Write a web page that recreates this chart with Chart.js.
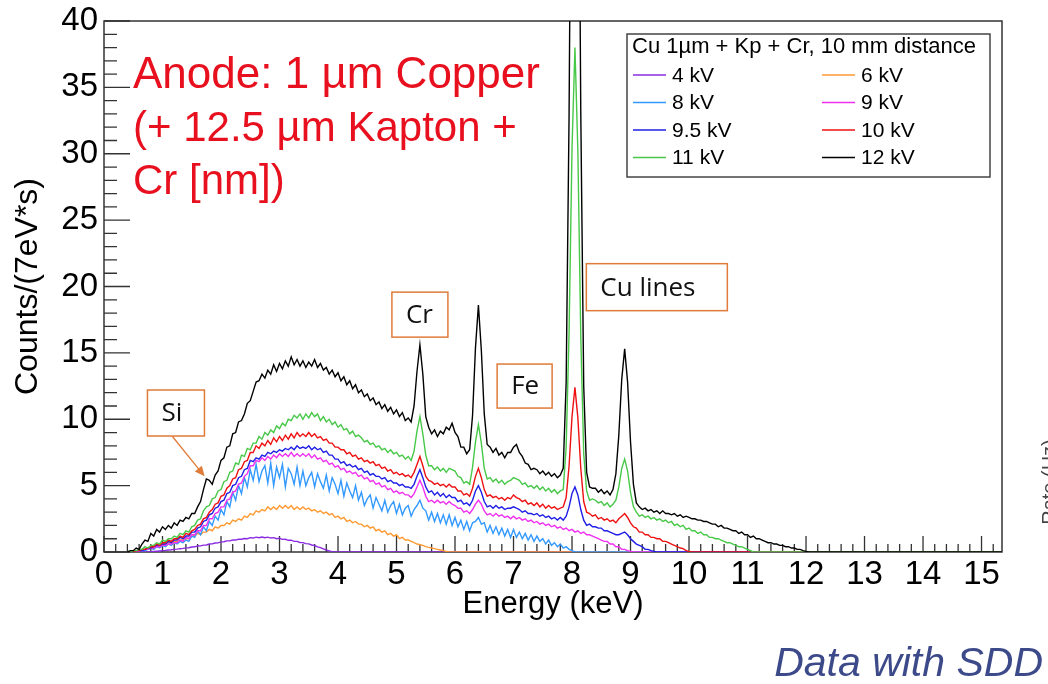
<!DOCTYPE html>
<html>
<head>
<meta charset="utf-8">
<title>SDD spectra, Cu anode</title>
<script src="https://cdn.jsdelivr.net/npm/chart.js@4.4.1/dist/chart.umd.min.js"></script>
<style>
  html, body { margin: 0; padding: 0; background: #fff; }
  #wrap { width: 1048px; height: 684px; }
</style>
</head>
<body>
<div id="wrap"><canvas id="spectrum" width="1048" height="684"></canvas></div>
<script>
// Energy bins: first kept bin centre and bin width, in keV
const binStart = 0.4;
const binWidth = 0.05;
const energyMax = 15.35;

const energyTicks = [0, 1, 2, 3, 4, 5, 6, 7, 8, 9, 10, 11, 12, 13, 14, 15];
const countTicks = [0, 5, 10, 15, 20, 25, 30, 35, 40];

const seriesLabels = ['4 kV', '6 kV', '8 kV', '9 kV', '9.5 kV', '10 kV', '11 kV', '12 kV'];
const seriesColors = ['#8a2be2', '#ff9a33', '#3399ff', '#f030f0', '#1f1fe6', '#ee1111', '#48c848', '#000000'];

// Counts/(7eV*s), one row per keV starting at 0.40, 1.40, 2.40 ...
const kv4 = [
  0, 0, 0, 0, 0, 0, 0, 0, 0.02, 0.04, 0.06, 0.08, 0.1, 0.12, 0.15, 0.17, 0.2, 0.22, 0.25, 0.27,
  0.31, 0.32, 0.38, 0.39, 0.45, 0.46, 0.52, 0.53, 0.6, 0.61, 0.68, 0.69, 0.76, 0.77, 0.84, 0.84, 0.9, 0.9, 0.96, 0.96,
  1.02, 1.0, 1.08, 1.05, 1.12, 1.08, 1.13, 1.08, 1.12, 1.05, 1.08, 1.0, 1.03, 0.95, 0.96, 0.88, 0.89, 0.8, 0.8, 0.72,
  0.71, 0.63, 0.61, 0.53, 0.49, 0.39, 0.33, 0.23, 0.15, 0.08, 0.03, 0.01, 0
];
const kv6 = [
  0, 0, 0.1, 0, 0.1, 0.2, 0.2, 0.3, 0.4, 0.4, 0.5, 0.5, 0.6, 0.6, 0.7, 0.7, 0.8, 0.8, 0.9, 0.9,
  1.0, 1.0, 1.2, 1.2, 1.4, 1.3, 1.5, 1.5, 1.7, 1.6, 1.9, 1.8, 2.0, 2.0, 2.2, 2.1, 2.4, 2.3, 2.5, 2.4,
  2.7, 2.6, 2.9, 2.8, 3.1, 3.0, 3.2, 3.1, 3.4, 3.2, 3.4, 3.2, 3.5, 3.3, 3.5, 3.3, 3.5, 3.2, 3.4, 3.2,
  3.4, 3.2, 3.3, 3.1, 3.2, 3.0, 3.1, 2.9, 3.0, 2.8, 2.9, 2.6, 2.7, 2.5, 2.6, 2.3, 2.4, 2.2, 2.3, 2.1,
  2.1, 1.9, 2.0, 1.8, 1.9, 1.6, 1.7, 1.5, 1.6, 1.3, 1.4, 1.2, 1.3, 1.0, 1.1, 0.9, 0.9, 0.8, 0.7, 0.6,
  0.55, 0.5, 0.4, 0.35, 0.3, 0.25, 0.2, 0.15, 0.1, 0.05, 0
];
const kv8 = [
  0, 0, 0, 0, 0.1, 0.1, 0.1, 0.2, 0.3, 0.2, 0.4, 0.3, 0.5, 0.4, 0.6, 0.5, 0.7, 0.6, 0.8, 0.7,
  0.9, 0.8, 1.2, 1.1, 1.6, 1.3, 1.9, 1.6, 2.3, 2.0, 2.7, 2.4, 3.2, 2.8, 3.8, 3.4, 4.5, 3.9, 5.0, 4.4,
  5.6, 4.9, 6.2, 5.4, 6.6, 5.3, 6.1, 6.5, 5.2, 6.7, 5.0, 6.4, 5.6, 6.6, 4.9, 6.3, 5.9, 5.1, 6.4, 5.0,
  6.1, 5.0, 5.6, 6.0, 4.9, 5.9, 5.3, 4.8, 5.8, 4.6, 5.6, 5.1, 4.4, 5.4, 4.2, 5.2, 4.6, 4.1, 5.0, 3.9,
  4.5, 3.5, 4.0, 4.3, 3.3, 4.1, 3.6, 3.1, 3.9, 3.0, 3.5, 3.8, 2.9, 3.6, 2.8, 3.3, 3.5, 2.7, 3.2, 3.5,
  3.9, 3.3, 3.1, 2.4, 3.0, 2.3, 2.9, 2.2, 2.8, 2.1, 2.8, 2.0, 2.6, 1.9, 2.4, 1.7, 2.3, 1.6, 2.2, 2.3,
  2.6, 2.1, 2.2, 1.5, 2.0, 1.4, 1.9, 1.3, 1.8, 1.2, 1.7, 1.1, 1.7, 1.1, 1.5, 1.0, 1.4, 0.9, 1.3, 0.8,
  1.2, 0.8, 1.0, 0.6, 0.9, 0.5, 0.7, 0.4, 0.6, 0.3, 0.4, 0.2, 0.1, 0
];
const kv9 = [
  0, 0, 0, 0, 0.1, 0.1, 0.2, 0.2, 0.3, 0.3, 0.4, 0.4, 0.5, 0.5, 0.6, 0.6, 0.7, 0.7, 0.9, 0.8,
  1.1, 1.0, 1.3, 1.3, 1.6, 1.6, 2.0, 2.0, 2.5, 2.5, 2.9, 3.0, 3.4, 3.4, 3.9, 4.0, 4.5, 4.6, 5.1, 5.2,
  5.7, 5.9, 6.5, 6.5, 6.9, 6.8, 7.1, 6.9, 7.2, 7.0, 7.3, 7.1, 7.4, 7.2, 7.4, 7.2, 7.5, 7.2, 7.4, 7.2,
  7.4, 7.2, 7.4, 7.1, 7.3, 7.0, 7.1, 6.8, 6.9, 6.6, 6.7, 6.4, 6.5, 6.2, 6.3, 6.0, 6.1, 5.9, 6.0, 5.7,
  5.8, 5.5, 5.6, 5.3, 5.4, 5.1, 5.2, 4.9, 5.0, 4.7, 4.8, 4.5, 4.6, 4.4, 4.5, 4.3, 4.3, 4.1, 4.4, 4.9,
  5.4, 4.9, 4.2, 3.8, 3.9, 3.7, 3.9, 3.7, 3.8, 3.6, 3.8, 3.6, 3.5, 3.3, 3.3, 3.0, 3.1, 2.9, 3.2, 3.6,
  3.9, 3.6, 3.1, 2.8, 2.9, 2.7, 2.9, 2.7, 2.8, 2.6, 2.7, 2.5, 2.7, 2.5, 2.6, 2.4, 2.5, 2.3, 2.4, 2.2,
  2.3, 2.1, 2.2, 2.0, 2.1, 1.9, 2.0, 1.8, 1.9, 1.7, 1.8, 1.6, 1.7, 1.5, 1.6, 1.4, 1.5, 1.3, 1.3, 1.2,
  1.1, 1.0, 0.9, 0.8, 0.8, 0.6, 0.6, 0.4, 0.4, 0.2, 0.2, 0.1, 0.05, 0
];
const kv95 = [
  0, 0, 0, 0.1, 0.1, 0.1, 0.2, 0.3, 0.3, 0.4, 0.5, 0.5, 0.6, 0.6, 0.8, 0.7, 0.9, 0.9, 1.1, 1.0,
  1.2, 1.2, 1.5, 1.5, 1.8, 1.9, 2.3, 2.4, 2.8, 2.9, 3.3, 3.4, 3.8, 3.9, 4.4, 4.5, 5.0, 5.1, 5.6, 5.7,
  6.2, 6.3, 6.9, 6.8, 7.1, 7.0, 7.3, 7.2, 7.5, 7.4, 7.6, 7.5, 7.7, 7.6, 7.8, 7.7, 7.9, 7.7, 8.0, 7.8,
  7.9, 7.8, 8.0, 7.7, 7.9, 7.7, 7.8, 7.5, 7.6, 7.3, 7.3, 7.0, 7.0, 6.7, 6.8, 6.5, 6.6, 6.4, 6.5, 6.2,
  6.3, 6.0, 6.1, 5.8, 5.9, 5.7, 5.7, 5.5, 5.6, 5.3, 5.4, 5.2, 5.2, 5.0, 5.1, 4.9, 4.9, 4.8, 5.1, 5.7,
  6.2, 5.6, 4.9, 4.5, 4.6, 4.3, 4.5, 4.2, 4.4, 4.1, 4.3, 4.1, 4.1, 3.8, 3.9, 3.6, 3.7, 3.5, 3.9, 4.6,
  5.0, 4.5, 3.8, 3.4, 3.5, 3.3, 3.5, 3.3, 3.4, 3.2, 3.3, 3.3, 3.4, 3.3, 3.2, 3.0, 3.1, 2.9, 2.9, 2.8,
  2.9, 2.7, 2.8, 2.6, 2.7, 2.5, 2.6, 2.4, 2.6, 2.4, 2.7, 3.4, 4.4, 4.9, 4.3, 3.2, 2.4, 2.0, 2.1, 1.9,
  1.9, 1.8, 1.8, 1.6, 1.6, 1.5, 1.4, 1.3, 1.3, 1.4, 1.5, 1.3, 1.0, 0.8, 0.6, 0.5, 0.4, 0.2, 0.2, 0.1,
  0.05, 0
];
const kv10 = [
  0, 0, 0, 0.1, 0.1, 0.2, 0.2, 0.3, 0.4, 0.4, 0.6, 0.5, 0.7, 0.7, 0.9, 0.8, 1.0, 1.0, 1.2, 1.1,
  1.4, 1.3, 1.6, 1.7, 2.0, 2.1, 2.5, 2.6, 3.0, 3.2, 3.6, 3.7, 4.2, 4.3, 4.8, 5.0, 5.5, 5.6, 6.2, 6.3,
  6.8, 6.9, 7.5, 7.5, 8.0, 7.8, 8.2, 8.0, 8.4, 8.1, 8.6, 8.3, 8.7, 8.4, 8.8, 8.5, 8.9, 8.6, 9.0, 8.7,
  8.9, 8.7, 9.0, 8.7, 8.9, 8.6, 8.7, 8.4, 8.5, 8.2, 8.2, 7.9, 7.9, 7.7, 7.7, 7.4, 7.5, 7.2, 7.3, 7.0,
  7.1, 6.8, 6.9, 6.7, 6.8, 6.5, 6.6, 6.3, 6.4, 6.1, 6.2, 5.9, 6.0, 5.8, 5.9, 5.7, 5.8, 5.6, 6.0, 6.6,
  7.2, 6.5, 5.7, 5.4, 5.3, 5.1, 5.2, 5.0, 5.1, 4.9, 5.1, 4.9, 4.9, 4.6, 4.6, 4.3, 4.4, 4.2, 4.8, 5.7,
  6.3, 5.6, 4.7, 4.2, 4.3, 4.1, 4.2, 4.0, 4.1, 3.9, 4.1, 4.0, 4.3, 4.1, 4.0, 3.8, 3.9, 3.6, 3.7, 3.5,
  3.7, 3.4, 3.6, 3.3, 3.5, 3.3, 3.4, 3.2, 3.3, 3.4, 4.1, 6.5, 10.2, 12.4, 10.1, 6.3, 3.8, 3.0, 2.9, 2.7,
  2.8, 2.5, 2.6, 2.4, 2.5, 2.3, 2.4, 2.2, 2.5, 2.7, 2.9, 2.6, 2.2, 1.9, 1.8, 1.5, 1.5, 1.3, 1.3, 1.1,
  1.1, 1.0, 1.0, 0.8, 0.8, 0.7, 0.6, 0.5, 0.4, 0.3, 0.25, 0.1, 0.05, 0
];
const kv11 = [
  0, 0, 0.1, 0.1, 0.2, 0.2, 0.4, 0.3, 0.5, 0.5, 0.7, 0.6, 0.9, 0.8, 1.0, 1.0, 1.2, 1.1, 1.4, 1.3,
  1.6, 1.5, 1.9, 2.0, 2.4, 2.5, 3.1, 3.4, 3.5, 4.0, 4.1, 4.6, 4.7, 5.3, 5.4, 6.0, 6.1, 6.7, 6.6, 7.3,
  7.2, 7.8, 7.7, 8.2, 8.2, 8.7, 8.5, 9.0, 8.8, 9.2, 9.0, 9.5, 9.3, 9.7, 9.5, 10.0, 9.9, 10.3, 10.1, 10.4,
  10.0, 10.4, 10.1, 10.5, 10.2, 10.4, 9.9, 10.2, 9.8, 10.0, 9.6, 9.8, 9.4, 9.6, 9.2, 9.3, 8.9, 9.1, 8.7, 8.8,
  8.6, 8.3, 8.4, 8.1, 8.2, 7.9, 8.0, 7.7, 7.8, 7.5, 7.7, 7.4, 7.5, 7.2, 7.3, 7.0, 7.2, 6.9, 7.6, 9.1,
  10.2, 8.9, 7.3, 6.5, 6.5, 6.2, 6.4, 6.1, 6.3, 6.0, 6.3, 6.2, 6.1, 5.7, 5.6, 5.2, 5.3, 5.1, 6.4, 8.3,
  9.6, 8.2, 6.3, 5.5, 5.6, 5.3, 5.5, 5.2, 5.4, 5.1, 5.3, 5.4, 5.6, 5.5, 5.4, 5.1, 5.2, 4.9, 5.0, 4.8,
  5.0, 4.7, 4.9, 4.6, 4.8, 4.5, 4.7, 4.4, 4.6, 4.7, 7.9, 16.6, 30.4, 38.0, 30.2, 16.2, 7.4, 4.6, 3.9, 4.0,
  3.9, 3.7, 3.8, 3.5, 3.7, 3.4, 3.6, 3.9, 4.9, 6.3, 7.0, 6.1, 4.5, 3.4, 3.0, 2.7, 2.8, 2.6, 2.7, 2.5,
  2.6, 2.4, 2.5, 2.3, 2.4, 2.2, 2.3, 2.0, 2.1, 1.9, 2.0, 1.7, 1.8, 1.6, 1.6, 1.4, 1.5, 1.3, 1.3, 1.1,
  1.1, 1.0, 1.0, 0.9, 0.8, 0.7, 0.7, 0.6, 0.5, 0.4, 0.4, 0.3, 0.2, 0.1, 0
];
const kv12 = [
  0, 0.1, 0.1, 0.3, 0.2, 0.6, 0.9, 0.8, 1.4, 1.2, 1.7, 1.5, 1.9, 1.7, 2.0, 1.8, 2.2, 2.0, 2.4, 2.3,
  2.6, 2.5, 2.9, 2.9, 3.4, 3.8, 4.7, 5.5, 5.4, 5.1, 5.8, 6.1, 6.9, 7.1, 7.9, 8.0, 8.9, 9.0, 9.8, 9.9,
  10.4, 11.2, 11.4, 12.1, 12.8, 12.9, 13.4, 13.1, 13.7, 13.4, 14.1, 13.6, 14.2, 13.8, 14.4, 14.0, 14.7, 14.1, 14.5, 14.0,
  14.4, 13.9, 14.3, 14.0, 14.5, 13.9, 14.2, 13.7, 13.9, 13.4, 13.7, 13.2, 13.5, 12.9, 13.2, 12.6, 12.9, 12.3, 12.6, 12.0,
  12.2, 11.7, 11.9, 11.4, 11.6, 11.1, 11.3, 10.8, 11.1, 10.6, 10.9, 10.4, 10.7, 10.2, 10.5, 9.9, 10.1, 9.8, 11.0, 13.6,
  15.6, 13.4, 10.2, 9.4, 8.9, 9.2, 8.7, 9.1, 8.9, 9.4, 9.2, 9.7, 9.0, 8.7, 7.9, 7.9, 7.4, 7.7, 10.3, 15.4,
  18.6, 15.2, 10.4, 8.1, 7.9, 7.5, 7.8, 7.3, 7.5, 7.1, 7.5, 7.5, 7.9, 8.1, 7.5, 7.2, 6.7, 6.6, 6.2, 6.3,
  6.2, 5.9, 6.1, 5.8, 6.0, 5.7, 5.9, 5.6, 5.8, 6.3, 12.8, 33.0, 65.5, 83.0, 65.5, 33.0, 12.5, 6.0, 4.9, 4.8,
  4.8, 4.5, 4.7, 4.4, 4.6, 4.3, 4.7, 5.9, 8.8, 13.0, 15.3, 12.8, 8.3, 5.1, 3.7, 3.4, 3.2, 3.3, 3.1, 3.2,
  3.0, 3.1, 2.9, 3.1, 2.9, 2.9, 2.8, 2.9, 2.7, 2.8, 2.6, 2.7, 2.6, 2.5, 2.5, 2.4, 2.4, 2.3, 2.3, 2.2,
  2.1, 2.1, 1.9, 2.0, 1.8, 1.8, 1.7, 1.6, 1.6, 1.4, 1.5, 1.3, 1.3, 1.1, 1.2, 1.0, 1.0, 0.9, 0.8, 0.7,
  0.7, 0.6, 0.6, 0.5, 0.5, 0.4, 0.4, 0.3, 0.3, 0.2, 0.2, 0.1, 0.05, 0
];
const seriesValues = [kv4, kv6, kv8, kv9, kv95, kv10, kv11, kv12];

// Line labels drawn over the spectra, placed in (keV, counts) units
const peakLabels = [
  { text: 'Si', e: 1.23, v: 10.47, w: 57, h: 46 },
  { text: 'Cr', e: 5.40, v: 17.88, w: 56, h: 45 },
  { text: 'Fe', e: 7.19, v: 12.5, w: 55, h: 44 },
  { text: 'Cu lines', e: 9.45, v: 19.95, w: 141, h: 47 }
];
const siArrow = { from: [1.17, 8.7], to: [1.72, 5.7] };

const anodeLines = ['Anode: 1 \u00b5m Copper', '(+ 12.5 \u00b5m Kapton +', 'Cr [nm])'];
const legendTitle = 'Cu 1\u00b5m + Kp + Cr, 10 mm distance';

const SANS = '"Liberation Sans", Arial, Helvetica, sans-serif';

function buildDatasets() {
  return seriesValues.map((values, s) => {
    const points = values.map((v, i) => ({ x: Math.round((binStart + i * binWidth) * 100) / 100, y: v }));
    // histogram stays on zero up to the end of the range
    points.push({ x: energyMax, y: 0 });
    return {
      label: seriesLabels[s],
      data: points,
      borderColor: seriesColors[s],
      borderWidth: 1.4,
      pointRadius: 0,
      tension: 0,
      fill: false,
      order: seriesValues.length - s
    };
  });
}

// Frame round the plot and ROOT-style inward tick marks
const frameTicks = {
  id: 'frameTicks',
  beforeDatasetsDraw(chart) {
    const { ctx, chartArea: a, scales: { x, y } } = chart;
    ctx.save();
    ctx.strokeStyle = '#333';
    ctx.lineWidth = 1.5;
    ctx.strokeRect(a.left, a.top, a.right - a.left, a.bottom - a.top);

    ctx.lineWidth = 1.3;
    ctx.beginPath();
    for (let i = 0; i * 0.2 <= x.max + 1e-9; i++) {
      const px = x.getPixelForValue(i * 0.2);
      const len = i % 5 === 0 ? 16 : 8;
      ctx.moveTo(px, a.bottom);
      ctx.lineTo(px, a.bottom - len);
    }
    for (let v = 0; v <= y.max; v++) {
      const py = y.getPixelForValue(v);
      const len = v % 5 === 0 ? 26 : 13;
      ctx.moveTo(a.left, py);
      ctx.lineTo(a.left + len, py);
    }
    ctx.stroke();
    ctx.restore();
  }
};

function drawLegend(ctx) {
  const box = { x: 627, y: 34, w: 363, h: 143 };
  ctx.save();
  ctx.fillStyle = '#fff';
  ctx.fillRect(box.x, box.y, box.w, box.h);
  ctx.strokeStyle = '#444';
  ctx.lineWidth = 1.5;
  ctx.strokeRect(box.x, box.y, box.w, box.h);

  ctx.font = '22px ' + SANS;
  ctx.fillStyle = '#000';
  ctx.textBaseline = 'middle';
  ctx.textAlign = 'left';
  ctx.fillText(legendTitle, 632, 47);

  ctx.font = '21px ' + SANS;
  seriesLabels.forEach((label, i) => {
    const col = i % 2, row = Math.floor(i / 2);
    const lx = col === 0 ? 633 : 822;
    const ly = 75 + row * 27.5;
    ctx.strokeStyle = seriesColors[i];
    ctx.lineWidth = 1.6;
    ctx.beginPath();
    ctx.moveTo(lx, ly);
    ctx.lineTo(lx + 33, ly);
    ctx.stroke();
    ctx.fillStyle = '#000';
    ctx.fillText(label, lx + 39, ly + 1);
  });
  ctx.restore();
}

function drawPeakLabels(ctx, x, y) {
  ctx.save();
  ctx.font = '26px "Open Sans", sans-serif';
  ctx.textAlign = 'left';
  ctx.textBaseline = 'middle';
  peakLabels.forEach(p => {
    const cx = x.getPixelForValue(p.e);
    const cy = y.getPixelForValue(p.v);
    ctx.fillStyle = '#fff';
    ctx.fillRect(cx - p.w / 2, cy - p.h / 2, p.w, p.h);
    ctx.strokeStyle = '#e07b39';
    ctx.lineWidth = 1.5;
    ctx.strokeRect(cx - p.w / 2, cy - p.h / 2, p.w, p.h);
    ctx.fillStyle = '#111';
    ctx.fillText(p.text, cx - p.w / 2 + 14, cy + 1);
  });

  // arrow from the Si box down to the silicon edge on the 12 kV curve
  const x0 = x.getPixelForValue(siArrow.from[0]), y0 = y.getPixelForValue(siArrow.from[1]);
  const x1 = x.getPixelForValue(siArrow.to[0]), y1 = y.getPixelForValue(siArrow.to[1]);
  const ang = Math.atan2(y1 - y0, x1 - x0);
  ctx.strokeStyle = '#e07b39';
  ctx.fillStyle = '#e07b39';
  ctx.lineWidth = 1.3;
  ctx.beginPath();
  ctx.moveTo(x0, y0);
  ctx.lineTo(x1 - 8 * Math.cos(ang), y1 - 8 * Math.sin(ang));
  ctx.stroke();
  ctx.beginPath();
  ctx.moveTo(x1, y1);
  ctx.lineTo(x1 - 10 * Math.cos(ang) + 4.5 * Math.sin(ang), y1 - 10 * Math.sin(ang) - 4.5 * Math.cos(ang));
  ctx.lineTo(x1 - 10 * Math.cos(ang) - 4.5 * Math.sin(ang), y1 - 10 * Math.sin(ang) + 4.5 * Math.cos(ang));
  ctx.closePath();
  ctx.fill();
  ctx.restore();
}

const decorations = {
  id: 'decorations',
  afterDraw(chart) {
    const { ctx, scales: { x, y } } = chart;

    drawPeakLabels(ctx, x, y);
    drawLegend(ctx);

    ctx.save();
    ctx.fillStyle = '#e8101e';
    ctx.textAlign = 'left';
    ctx.textBaseline = 'middle';
    anodeLines.forEach((line, i) => {
      ctx.font = (i === 0 ? '44px ' : '42px ') + SANS;
      ctx.fillText(line, 133, 76 + i * 53);
    });

    ctx.fillStyle = '#3d4a8a';
    ctx.font = 'italic 41px ' + SANS;
    ctx.textAlign = 'right';
    ctx.textBaseline = 'alphabetic';
    ctx.fillText('Data with SDD', 1043, 676);

    // neighbouring panel's axis title, cut by the page edge
    ctx.translate(1056, 482);
    ctx.rotate(-Math.PI / 2);
    ctx.fillStyle = '#444';
    ctx.font = '20px ' + SANS;
    ctx.textAlign = 'center';
    ctx.fillText('Rate (Hz)', 0, 0);
    ctx.restore();
  }
};

document.addEventListener('DOMContentLoaded', function() {
  const ctx = document.getElementById('spectrum').getContext('2d');
  new Chart(ctx, {
    type: 'line',
    data: { datasets: buildDatasets() },
    options: {
      responsive: false,
      animation: false,
      devicePixelRatio: 1,
      layout: { padding: { left: 0, right: 46, top: 21, bottom: 0 } },
      plugins: { legend: { display: false }, tooltip: { enabled: false } },
      scales: {
        x: {
          type: 'linear',
          min: 0,
          max: energyMax,
          grid: { display: false, drawTicks: false },
          border: { display: false },
          ticks: { autoSkip: false, maxRotation: 0, padding: 3, color: '#000', font: { family: SANS, size: 33 } },
          afterBuildTicks: s => { s.ticks = energyTicks.map(v => ({ value: v })); },
          afterFit: s => { s.height = 132; },
          title: { display: true, text: 'Energy (keV)', color: '#000', font: { family: SANS, size: 31 }, padding: { top: 0, bottom: 61 } }
        },
        y: {
          min: 0,
          max: 40,
          grid: { display: false, drawTicks: false },
          border: { display: false },
          ticks: { autoSkip: false, padding: 6, color: '#000', font: { family: SANS, size: 33, lineHeight: 0.8 } },
          afterBuildTicks: s => { s.ticks = countTicks.map(v => ({ value: v })); },
          afterFit: s => { s.width = 104; },
          title: { display: true, text: 'Counts/(7eV*s)', color: '#000', font: { family: SANS, size: 32 }, padding: { top: 9, bottom: 0 } }
        }
      }
    },
    plugins: [frameTicks, decorations]
  });
});
</script>
</body>
</html>
